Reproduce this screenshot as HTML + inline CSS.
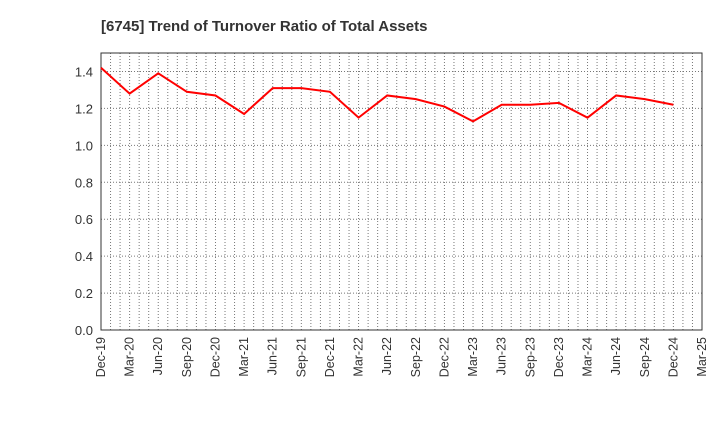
<!DOCTYPE html>
<html><head><meta charset="utf-8"><style>
body{margin:0;background:#fff;font-family:"Liberation Sans",sans-serif}
</style></head><body>
<svg id="c" width="720" height="440" xmlns="http://www.w3.org/2000/svg">
<text x="101" y="31" font-size="15" font-weight="bold" fill="#333">[6745]  Trend of Turnover Ratio of Total Assets</text>
<g id="grid"></g><g id="axes"></g><g id="series"></g>
</svg>
<script>
const categories=["Dec-19","Mar-20","Jun-20","Sep-20","Dec-20","Mar-21","Jun-21","Sep-21","Dec-21","Mar-22","Jun-22","Sep-22","Dec-22","Mar-23","Jun-23","Sep-23","Dec-23","Mar-24","Jun-24","Sep-24","Dec-24","Mar-25"];
const values=[1.42,1.28,1.39,1.29,1.27,1.17,1.31,1.31,1.29,1.15,1.27,1.25,1.21,1.13,1.22,1.22,1.23,1.15,1.27,1.25,1.22];
const yTicks=[0,0.2,0.4,0.6,0.8,1.0,1.2,1.4];
const L=101,R=702,T=53,B=330,yMax=1.5;
const ns="http://www.w3.org/2000/svg";
const x=i=>L+(R-L)*i/(categories.length-1);
const y=v=>B-(B-T)*v/yMax;
function mk(t,a,p){const e=document.createElementNS(ns,t);for(const k in a)e.setAttribute(k,a[k]);p.appendChild(e);return e;}
const g=document.getElementById('grid'),ax=document.getElementById('axes'),s=document.getElementById('series');
for(let m=1;m<(categories.length-1)*3;m++){const xx=L+(R-L)*m/((categories.length-1)*3);
const ln=mk('line',{x1:xx,x2:xx,y1:T,y2:B,stroke:'#777','stroke-dasharray':'1,2','stroke-width':1},g);
}
yTicks.forEach(v=>{if(v>0){const ln=mk('line',{x1:L,x2:R,y1:y(v),y2:y(v),stroke:'#777','stroke-dasharray':'1,2'},g);
}
const t=mk('text',{x:L-8,y:y(v)+5,'text-anchor':'end','font-size':13,fill:'#333'},ax);t.textContent=v.toFixed(1);
});
const fr=mk('rect',{x:L,y:T,width:R-L,height:B-T,fill:'none',stroke:'#333'},ax);

categories.forEach((c,i)=>{const t=mk('text',{x:0,y:0,'text-anchor':'end','font-size':12.5,fill:'#333',transform:`translate(${x(i)+4},${B+7}) rotate(-90)`},ax);t.textContent=c;
});
const p=mk('polyline',{points:values.map((v,i)=>x(i)+','+y(v)).join(' '),fill:'none',stroke:'#f00','stroke-width':2},s);

</script>
</body></html>
